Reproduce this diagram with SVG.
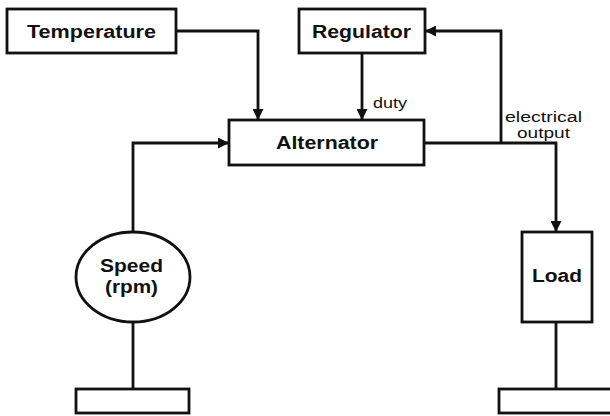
<svg xmlns="http://www.w3.org/2000/svg" width="610" height="416" viewBox="0 0 610 416">
<style>
.box{fill:#fff;stroke:#111;stroke-width:2.8}
.ln{fill:none;stroke:#111;stroke-width:2.8}
.lb{font-family:"Liberation Sans",Arial,sans-serif;font-weight:bold;font-size:18px;fill:#111;text-anchor:middle}
.sm{font-family:"Liberation Sans",Arial,sans-serif;font-size:14px;fill:#111}
</style>
<defs>
<marker id="ah" viewBox="0 0 10 10" refX="10" refY="5" markerWidth="11" markerHeight="11" markerUnits="userSpaceOnUse" orient="auto">
<path d="M0,0 L10,5 L0,10 Z" fill="#111"/>
</marker>
</defs>
<rect width="610" height="416" fill="#fff"/>
<g id="connectors">
<path class="ln" d="M176,31 H258 V120" marker-end="url(#ah)"/>
<path class="ln" d="M362,53 V120" marker-end="url(#ah)"/>
<path class="ln" d="M133,232 V143 H229" marker-end="url(#ah)"/>
<path class="ln" d="M424,143 H556 V232" marker-end="url(#ah)"/>
<path class="ln" d="M501,143 V31 H425" marker-end="url(#ah)"/>
<path class="ln" d="M133,322 V389"/>
<path class="ln" d="M556,322 V389"/>
<text class="sm" x="373" y="108" textLength="34" lengthAdjust="spacingAndGlyphs">duty</text>
<text class="sm" x="543.5" y="122" text-anchor="middle" textLength="77" lengthAdjust="spacingAndGlyphs">electrical</text>
<text class="sm" x="543.5" y="138" text-anchor="middle" textLength="53" lengthAdjust="spacingAndGlyphs">output</text>
</g>
<g id="temperature">
<rect class="box" x="7" y="9" width="169" height="44"/>
<text class="lb" x="91.5" y="37.5" textLength="129" lengthAdjust="spacingAndGlyphs">Temperature</text>
</g>
<g id="regulator">
<rect class="box" x="299" y="9" width="126" height="44"/>
<text class="lb" x="361.5" y="37.5" textLength="99" lengthAdjust="spacingAndGlyphs">Regulator</text>
</g>
<g id="alternator">
<rect class="box" x="229" y="120" width="195" height="45"/>
<text class="lb" x="327" y="149" textLength="102" lengthAdjust="spacingAndGlyphs">Alternator</text>
</g>
<g id="speed">
<ellipse class="box" cx="133" cy="277" rx="57" ry="45"/>
<text class="lb" x="131.5" y="272" textLength="63" lengthAdjust="spacingAndGlyphs">Speed</text>
<text class="lb" x="131.5" y="293" textLength="53" lengthAdjust="spacingAndGlyphs">(rpm)</text>
</g>
<g id="load">
<rect class="box" x="522" y="232" width="70" height="90"/>
<text class="lb" x="557" y="282" textLength="50" lengthAdjust="spacingAndGlyphs">Load</text>
</g>
<g id="ground-left">
<rect class="box" x="76" y="389" width="113" height="24"/>
</g>
<g id="ground-right">
<rect class="box" x="499" y="389" width="120" height="24"/>
</g>
</svg>
